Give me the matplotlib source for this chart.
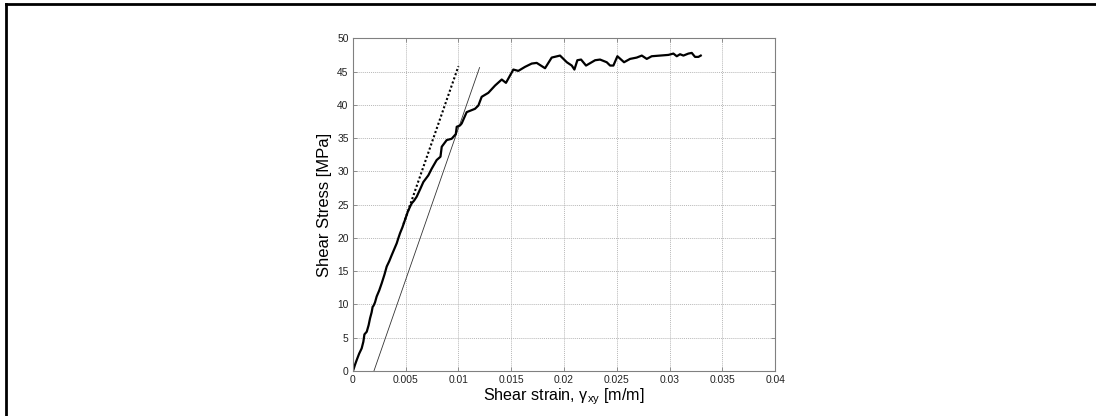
import matplotlib
matplotlib.use("Agg")
import matplotlib.pyplot as plt
from matplotlib.lines import Line2D

plt.rcParams['font.family'] = ['Liberation Sans', 'DejaVu Sans']
plt.rcParams['mathtext.fontset'] = 'custom'
plt.rcParams['mathtext.rm'] = 'Liberation Sans'
plt.rcParams['mathtext.it'] = 'Liberation Sans'
plt.rcParams['mathtext.default'] = 'regular'

# Measured shear stress-strain curve
strain = [0.0, 0.00005, 0.00020, 0.00037, 0.00060, 0.00084, 0.00100, 0.00110, 0.00132,
          0.00150, 0.00163, 0.00178, 0.00188, 0.00196, 0.00210, 0.00226, 0.00250, 0.00274,
          0.00300, 0.00321, 0.00345, 0.00368, 0.00392, 0.00416, 0.00430, 0.00447, 0.00470,
          0.00494, 0.00520, 0.00542, 0.00558, 0.00580, 0.00605, 0.00640, 0.00668, 0.00715,
          0.00747, 0.00794, 0.00830, 0.00842, 0.00889, 0.00936, 0.00975, 0.00984, 0.01015,
          0.01031, 0.01078, 0.01157, 0.01189, 0.01220, 0.01283, 0.01347, 0.01410, 0.01450,
          0.01520, 0.01567, 0.01630, 0.01694, 0.01741, 0.01820, 0.01883, 0.01962, 0.02026,
          0.02073, 0.02098, 0.02126, 0.02161, 0.02208, 0.02294, 0.02341, 0.02404, 0.02436,
          0.02467, 0.02505, 0.02568, 0.02625, 0.02688, 0.02736, 0.02783, 0.02830, 0.02909,
          0.02988, 0.03035, 0.03067, 0.03098, 0.03130, 0.03177, 0.03209, 0.03240, 0.03272,
          0.03294]
stress = [0.0, 0.15, 0.9, 1.65, 2.6, 3.4, 4.4, 5.5, 5.9,
          6.9, 7.9, 8.8, 9.65, 9.8, 10.3, 11.2, 12.1, 13.2,
          14.5, 15.7, 16.5, 17.4, 18.3, 19.2, 19.9, 20.7, 21.6,
          22.7, 23.9, 24.7, 25.2, 25.6, 26.2, 27.4, 28.4, 29.4,
          30.4, 31.7, 32.2, 33.7, 34.7, 34.9, 35.6, 36.7, 36.9,
          37.2, 38.9, 39.4, 39.9, 41.2, 41.8, 42.9, 43.8, 43.3,
          45.3, 45.1, 45.7, 46.2, 46.3, 45.5, 47.1, 47.4, 46.4,
          45.9, 45.3, 46.7, 46.8, 45.9, 46.7, 46.8, 46.4, 45.9,
          45.9, 47.3, 46.4, 46.9, 47.1, 47.4, 46.9, 47.3, 47.4,
          47.5, 47.7, 47.3, 47.6, 47.4, 47.7, 47.8, 47.2, 47.2,
          47.4]

# Elastic tangent (dotted) and 0.2 % offset line (thin solid)
tangent_strain = [0.0048, 0.0100]
tangent_stress = [22.1, 45.8]
offset_strain = [0.0020, 0.0120]
offset_stress = [0.0, 45.6]

xticks = [0, 0.005, 0.01, 0.015, 0.02, 0.025, 0.03, 0.035, 0.04]
xticklabels = ['0', '0.005', '0.01', '0.015', '0.02', '0.025', '0.03', '0.035', '0.04']
yticks = [0, 5, 10, 15, 20, 25, 30, 35, 40, 45, 50]

fig = plt.figure(figsize=(10.96, 4.16), dpi=100)
ax = fig.add_axes([0.3219, 0.1082, 0.3855, 0.7998])

ax.plot(offset_strain, offset_stress, color='#333333', lw=0.6)
ax.plot(tangent_strain, tangent_stress, color='black', lw=1.5, ls=(0, (1, 1.1)))
ax.plot(strain, stress, color='black', lw=1.6)

ax.set_xlim(0, 0.04)
ax.set_ylim(0, 50)
ax.set_xticks(xticks)
ax.set_xticklabels(xticklabels)
ax.set_yticks(yticks)
ax.grid(True, color='#b8b8b8', ls=(0, (1, 1)), lw=0.7)
ax.tick_params(direction='in', length=3, width=0.6, colors='#808080',
               labelcolor='#222222', labelsize=7.4, top=True, right=True, pad=3)
for sp in ax.spines.values():
    sp.set_color('#808080')
    sp.set_linewidth(0.8)

ax.set_xlabel(r'Shear strain, $\gamma_{xy}$ [m/m]', fontsize=11.6, labelpad=1)
ax.set_ylabel('Shear Stress [MPa]', fontsize=12, labelpad=4)

# partial outer frame (left and top edges)
fig.add_artist(Line2D([6 / 1096, 6 / 1096], [0, 1 - 4 / 416], color='black', lw=2,
                      transform=fig.transFigure))
fig.add_artist(Line2D([6 / 1096, 1], [1 - 4 / 416, 1 - 4 / 416], color='black', lw=2,
                      transform=fig.transFigure))

fig.savefig('out.png', dpi=100)
